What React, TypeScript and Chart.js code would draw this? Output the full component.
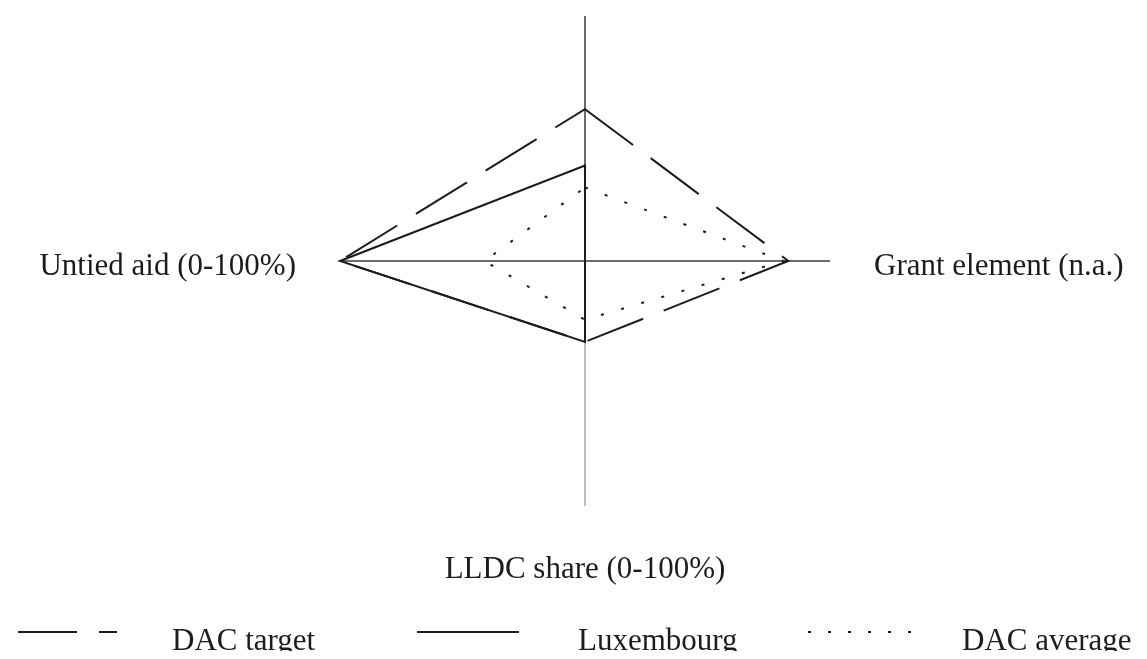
import React, { useEffect, useRef } from "react";
import { Chart, registerables } from "chart.js";

Chart.register(...registerables);

// ---- data ----
const axisLabels = ["", "Grant element (n.a.)", "LLDC share (0-100%)", "Untied aid (0-100%)"];
const seriesNames = ["DAC target", "Luxembourg", "DAC average"];
const dacTarget = [62, 83, 33, 100];
const luxembourg = [39, 0, 33, 100];
const dacAverage = [30, 81, 24, 41];

// ---- styles ----
const FONT = '"Liberation Serif", "Times New Roman", serif';
const INK = "#1c1c1c";
const seriesDash = [[60, 22], [], [3, 18]];
const legendDash = [[59, 22], [], [3, 17]];
const legendLayout = [
  { x0: 18, x1: 117, tx: 172 },
  { x0: 417, x1: 519, tx: 578 },
  { x0: 808, x1: 912, tx: 962 },
];

const axisLabelPlugin = {
  id: "axisLabelPlugin",
  afterDraw(chart: any) {
    const scale = chart.scales.r;
    const ctx = chart.ctx;
    const labels = chart.data.labels as string[];
    ctx.save();
    ctx.font = `31px ${FONT}`;
    ctx.fillStyle = INK;
    ctx.textBaseline = "middle";
    labels.forEach((text, i) => {
      if (!text) return;
      const outer = scale.getPointPosition(i, scale.drawingArea);
      const dx = outer.x - scale.xCenter;
      const dy = outer.y - scale.yCenter;
      const horizontal = Math.abs(dx) > Math.abs(dy);
      const pad = horizontal ? 44 : 64;
      const p = scale.getPointPosition(i, scale.drawingArea + pad);
      if (horizontal) {
        ctx.textAlign = dx > 0 ? "left" : "right";
        ctx.fillText(text, p.x, p.y + 6);
      } else {
        ctx.textAlign = "center";
        ctx.fillText(text, p.x, p.y);
      }
    });
    ctx.restore();
  },
};

const legendPlugin = {
  id: "customLegend",
  afterDraw(chart: any) {
    const ctx = chart.ctx;
    const sampleY = 632;
    const textY = 642;
    ctx.save();
    chart.data.datasets.forEach((ds: any, i: number) => {
      const l = legendLayout[i];
      ctx.beginPath();
      ctx.setLineDash(legendDash[i]);
      ctx.strokeStyle = ds.borderColor;
      ctx.lineWidth = 2;
      ctx.moveTo(l.x0, sampleY);
      ctx.lineTo(l.x1, sampleY);
      ctx.stroke();
      ctx.setLineDash([]);
      ctx.font = `31px ${FONT}`;
      ctx.fillStyle = INK;
      ctx.textAlign = "left";
      ctx.textBaseline = "middle";
      ctx.fillText(ds.label, l.tx, textY);
    });
    ctx.restore();
  },
};

export default function App() {
  const canvasRef = useRef<HTMLCanvasElement | null>(null);

  useEffect(() => {
    const canvas = canvasRef.current;
    if (!canvas) return;
    const values = [dacTarget, luxembourg, dacAverage];
    const chart = new Chart(canvas, {
      type: "radar",
      data: {
        labels: axisLabels,
        datasets: seriesNames.map((name, i) => ({
          label: name,
          data: values[i],
          borderColor: INK,
          backgroundColor: "rgba(0,0,0,0)",
          borderWidth: 2,
          borderDash: seriesDash[i],
          pointRadius: 0,
          pointHoverRadius: 0,
          fill: false,
          tension: 0,
        })),
      },
      options: {
        animation: false,
        responsive: false,
        maintainAspectRatio: false,
        devicePixelRatio: 1,
        layout: { padding: { left: 23, right: 0, top: 16, bottom: 153 } },
        plugins: {
          legend: { display: false },
          tooltip: { enabled: false },
        },
        scales: {
          r: {
            min: 0,
            max: 100,
            ticks: { display: false },
            grid: { display: false },
            pointLabels: { display: false },
            angleLines: {
              display: true,
              lineWidth: 1.5,
              color: (c: any) => (c.index === 2 ? "#aaa6b8" : "#3a3a3a"),
            },
          },
        },
      },
      plugins: [axisLabelPlugin, legendPlugin],
    });
    return () => chart.destroy();
  }, []);

  return (
    <div style={{ width: 1147, height: 659, margin: "-8px -8px" }}>
      <canvas ref={canvasRef} width={1147} height={659} style={{ display: "block" }} />
    </div>
  );
}
